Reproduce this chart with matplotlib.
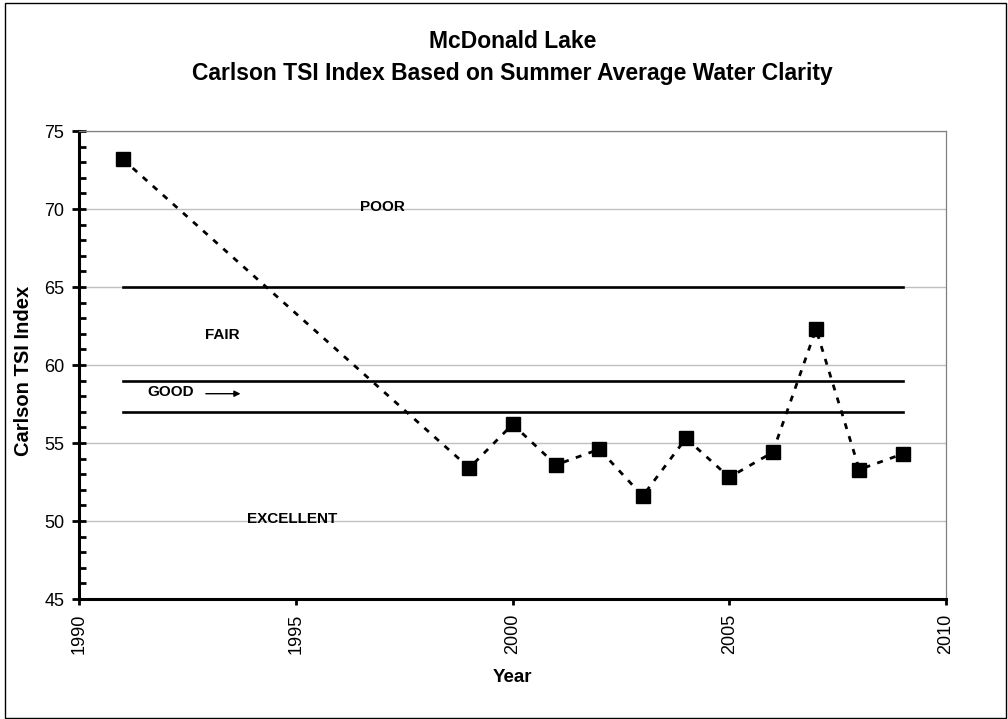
import matplotlib
matplotlib.use("Agg")
import matplotlib.pyplot as plt
from matplotlib.ticker import MultipleLocator

plt.rcParams['font.family'] = ['Liberation Sans', 'DejaVu Sans']

# Carlson TSI (summer average water clarity)
years = [1991, 1999, 2000, 2001, 2002, 2003, 2004, 2005, 2006, 2007, 2008, 2009]
tsi = [73.2, 53.4, 56.2, 53.6, 54.6, 51.6, 55.3, 52.8, 54.4, 62.3, 53.3, 54.3]

# class boundaries
bound_years = [1991, 2009]
bounds = [65, 59, 57]

# class labels (text, year, value)
class_labels = ["POOR", "FAIR", "GOOD", "EXCELLENT"]
label_x = [1997.0, 1993.3, 1992.1, 1994.9]
label_y = [70.1, 61.9, 58.3, 50.15]

fig = plt.figure(figsize=(10.08, 7.19), dpi=100)
ax = fig.add_axes([79.3 / 1008, 120 / 719, 866.7 / 1008, 468 / 719])

# thin frame around the figure
fig.patches.append(plt.Rectangle((5 / 1008, 1 / 719), 1001 / 1008, 715 / 719,
                                 transform=fig.transFigure, fill=False,
                                 edgecolor='black', linewidth=1.0))

for b in bounds:
    ax.plot(bound_years, [b, b], color='black', linewidth=1.9, zorder=2)

ax.plot(years, tsi, color='black', linewidth=2.0, dashes=(2.15, 2.7),
        marker='s', markersize=9.5, markerfacecolor='black',
        markeredgecolor='black', zorder=3)

for txt, x, y in zip(class_labels, label_x, label_y):
    ax.text(x, y, txt, fontsize=11, fontweight='bold', ha='center', va='center')

ax.annotate("", xy=(1993.72, 58.16), xytext=(1992.92, 58.16),
            arrowprops=dict(arrowstyle='-|>', color='black', lw=1.0,
                            mutation_scale=9, shrinkA=0, shrinkB=0))

ax.set_xlim(1990, 2010)
ax.set_ylim(45, 75)
ax.xaxis.set_major_locator(MultipleLocator(5))
ax.yaxis.set_major_locator(MultipleLocator(5))
ax.yaxis.set_minor_locator(MultipleLocator(1))
ax.grid(axis='y', which='major', color='#c0c0c0', linewidth=1.0, zorder=0)
ax.set_axisbelow(True)

for s in ['left', 'bottom']:
    ax.spines[s].set_linewidth(2.2)
    ax.spines[s].set_color('black')
for s in ['top', 'right']:
    ax.spines[s].set_linewidth(0.9)
    ax.spines[s].set_color('#808080')

ax.tick_params(axis='y', which='major', direction='inout', length=9.6, width=2,
               labelsize=13, pad=6)
ax.tick_params(axis='y', which='minor', direction='in', length=4.8, width=2)
ax.tick_params(axis='x', which='major', direction='out', length=4.5, width=2,
               labelsize=13, pad=6, labelrotation=90)

ax.set_xlabel("Year", fontsize=13.5, fontweight='bold', labelpad=11)
fig.text(23.5 / 1008, 1 - 371 / 719, "Carlson TSI Index", rotation=90,
         fontsize=14.5, fontweight='bold', ha='center', va='center')

fig.text(512.7 / 1008, 1 - 48.3 / 719, "McDonald Lake", fontsize=16.5,
         fontweight='bold', ha='center', va='baseline')
fig.text(512.7 / 1008, 1 - 80 / 719,
         "Carlson TSI Index Based on Summer Average Water Clarity",
         fontsize=16.5, fontweight='bold', ha='center', va='baseline')

fig.savefig("out.png", dpi=100)
